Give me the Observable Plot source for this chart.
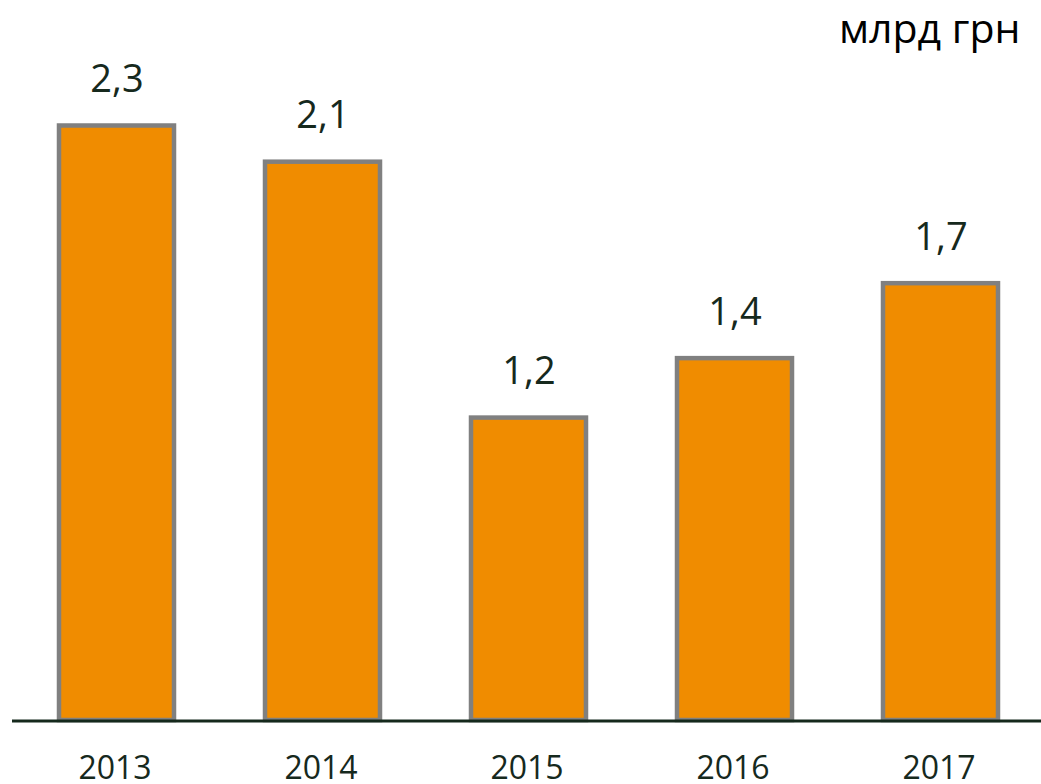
<!DOCTYPE html>
<html>
<head>
<meta charset="utf-8">
<script src="https://cdn.jsdelivr.net/npm/d3@7"></script>
<script src="https://cdn.jsdelivr.net/npm/@observablehq/plot@0.6"></script>
<style>
  html, body { margin: 0; padding: 0; background: #ffffff; }
  #chart svg { display: block; }
</style>
</head>
<body>
<div id="chart"></div>
<script>
const years = ["2013", "2014", "2015", "2016", "2017"];
const values = [2.30, 2.16, 1.17, 1.40, 1.69];
const valueLabels = ["2,3", "2,1", "1,2", "1,4", "1,7"];
const unitLabel = "млрд грн";

const data = years.map((year, i) => ({year, value: values[i], label: valueLabels[i]}));

const textColor = "#16291d";
const font = "'Open Sans', 'Noto Sans', sans-serif";

const chart = Plot.plot({
  width: 1041,
  height: 784,
  marginTop: 125.5,
  marginBottom: 64,
  marginLeft: 12,
  marginRight: 0,
  style: {fontFamily: font, background: "#ffffff", overflow: "visible"},
  x: {domain: years, range: [12, 1044], paddingInner: 0.443, paddingOuter: 0.2215, axis: null},
  y: {domain: [0, 2.3], axis: null},
  marks: [
    Plot.barY(data, {x: "year", y: "value", fill: "#F08C00", stroke: "#808080", strokeWidth: 4.5}),
    Plot.ruleY([0], {stroke: "#15291c", strokeWidth: 3, dy: 0.5}),
    Plot.text(data, {x: "year", y: "value", text: "label", lineAnchor: "bottom", dy: -34, fontSize: 38, fill: textColor}),
    Plot.text(data, {x: "year", text: "year", frameAnchor: "bottom", lineAnchor: "middle", dy: 48, dx: -2, fontSize: 32, fill: textColor}),
    Plot.text([unitLabel], {text: d => d, frameAnchor: "top-right", textAnchor: "end", lineAnchor: "bottom", dx: -21, dy: -83, fontSize: 41, fill: "#000000"})
  ]
});

document.getElementById("chart").appendChild(chart);
</script>
</body>
</html>
